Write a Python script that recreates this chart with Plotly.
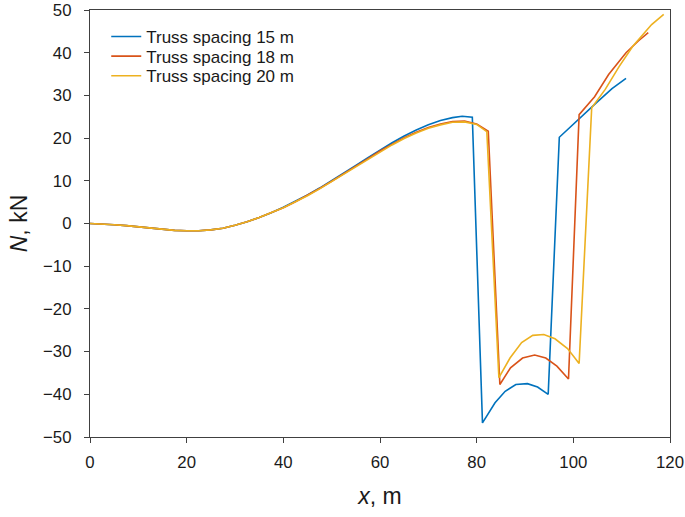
import plotly.graph_objects as go

# Truss spacing 15 m
x15 = [0, 2.5, 5, 7.5, 10, 12.5, 15, 17.5, 20, 22.5, 25, 27.5, 30, 32.5, 35, 37.5, 40,
       42.5, 45, 47.5, 50, 52.5, 55, 57.5, 60, 62.5, 65, 67.5, 70, 72.5, 75, 77, 79.1,
       81.2, 83.8, 85.9, 88.1, 90.5, 92.6, 94.8, 97.1, 101.4, 104.8, 108.0, 110.9]
y15 = [0, -0.1, -0.3, -0.5, -0.8, -1.1, -1.4, -1.6, -1.7, -1.7, -1.5, -1.1, -0.4, 0.4, 1.4, 2.5, 3.8,
       5.2, 6.7, 8.3, 10.0, 11.8, 13.6, 15.4, 17.2, 18.9, 20.5, 21.9, 23.1, 24.1, 24.8, 25.1, 24.9,
       -46.7, -42.0, -39.3, -37.7, -37.5, -38.3, -40.0, 20.2, 24.8, 28.3, 31.6, 34.0]

# Truss spacing 18 m
x18 = [0, 2.5, 5, 7.5, 10, 12.5, 15, 17.5, 20, 22.5, 25, 27.5, 30, 32.5, 35, 37.5, 40,
       42.5, 45, 47.5, 50, 52.5, 55, 57.5, 60, 62.5, 65, 67.5, 70, 72.5, 75, 77.5, 80, 82.4,
       84.8, 87.0, 89.5, 92.0, 94.3, 96.6, 99.0, 101.2, 104.4, 107.3, 110.9, 113.5, 115.5]
y18 = [0, -0.1, -0.3, -0.5, -0.8, -1.1, -1.4, -1.6, -1.7, -1.7, -1.5, -1.1, -0.4, 0.4, 1.4, 2.5, 3.7,
       5.1, 6.6, 8.2, 9.9, 11.6, 13.4, 15.2, 17.0, 18.6, 20.1, 21.4, 22.5, 23.3, 23.9, 24.0, 23.3, 21.6,
       -37.7, -33.8, -31.5, -30.8, -31.5, -33.4, -36.4, 25.5, 29.7, 34.9, 40.0, 42.8, 44.7]

# Truss spacing 20 m
x20 = [0, 2.5, 5, 7.5, 10, 12.5, 15, 17.5, 20, 22.5, 25, 27.5, 30, 32.5, 35, 37.5, 40,
       42.5, 45, 47.5, 50, 52.5, 55, 57.5, 60, 62.5, 65, 67.5, 70, 72.5, 75, 77.5, 80, 82.1,
       84.6, 86.9, 89.3, 91.6, 93.9, 96.2, 98.8, 101.2, 103.8, 106.6, 109.5, 112.3, 116.2, 118.7]
y20 = [0, -0.1, -0.3, -0.5, -0.8, -1.1, -1.4, -1.6, -1.7, -1.7, -1.5, -1.1, -0.4, 0.4, 1.4, 2.5, 3.7,
       5.1, 6.5, 8.1, 9.8, 11.5, 13.3, 15.1, 16.8, 18.4, 19.9, 21.2, 22.3, 23.1, 23.7, 23.8, 23.2, 21.5,
       -36.1, -31.5, -27.9, -26.2, -26.0, -27.0, -29.3, -32.8, 27.1, 31.4, 36.8, 41.5, 46.6, 49.0]

names = ["Truss spacing 15 m", "Truss spacing 18 m", "Truss spacing 20 m"]
colors = ["#0072BD", "#D95319", "#EDB120"]
legend_ids = ["legend", "legend2", "legend3"]
legend_rows = [0.937, 0.891, 0.845]

x_ticks = [0, 20, 40, 60, 80, 100, 120]
y_ticks = [-50, -40, -30, -20, -10, 0, 10, 20, 30, 40, 50]

fig = go.Figure()
for xs, ys, nm, c, lg in zip([x15, x18, x20], [y15, y18, y20], names, colors, legend_ids):
    fig.add_trace(go.Scatter(x=xs, y=ys, mode="lines", name=nm, legend=lg,
                             line=dict(color=c, width=1.6)))

axis_common = dict(showgrid=False, zeroline=False, showline=True, mirror=True,
                   automargin=False,
                   linecolor="#404040", linewidth=1.3, ticks="outside", ticklen=5,
                   tickcolor="#404040", tickwidth=1.3,
                   tickfont=dict(family="Liberation Sans, Arial", size=16.8, color="#1a1a1a"))

legend_style = dict(x=0.028, xanchor="left", yanchor="middle",
                    bgcolor="rgba(0,0,0,0)", font=dict(size=17, color="#1a1a1a"),
                    itemwidth=30)

fig.update_layout(
    template="none",
    width=685, height=517,
    margin=dict(l=90, r=15, t=10, b=80, pad=0),
    paper_bgcolor="white", plot_bgcolor="white",
    font=dict(family="Liberation Sans, Arial", color="#1a1a1a"),
    showlegend=True,
    legend=dict(y=legend_rows[0], **legend_style),
    legend2=dict(y=legend_rows[1], **legend_style),
    legend3=dict(y=legend_rows[2], **legend_style),
    xaxis=dict(range=[0, 120], tickvals=x_ticks, ticklabelstandoff=5,
               title=dict(text="<i>x</i>, m", font=dict(size=23), standoff=16),
               **axis_common),
    yaxis=dict(range=[-50, 50], tickvals=y_ticks, ticklabelstandoff=9,
               title=dict(text="<i>N</i>, kN", font=dict(size=23), standoff=8),
               **axis_common),
)

fig.write_html("out.html", post_script="document.body.style.margin='0';",
               config={"displayModeBar": False})
